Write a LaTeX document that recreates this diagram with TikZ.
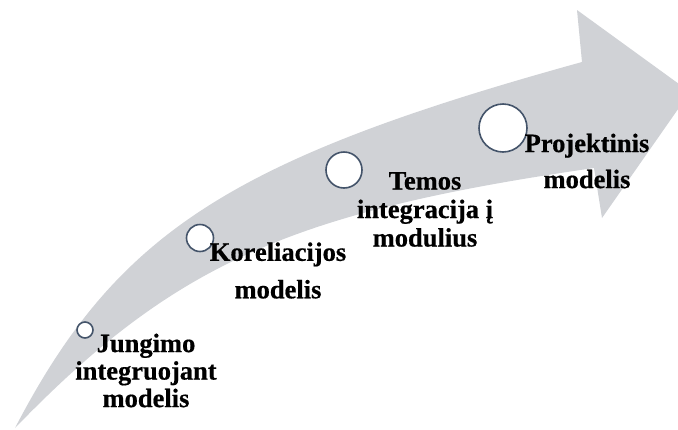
\documentclass[tikz,border=0pt]{standalone}
\usepackage{fontspec}
\setmainfont{Liberation Serif}
\definecolor{arrowgrey}{RGB}{208, 210, 214}
\definecolor{ringblue}{RGB}{68, 84, 106}
\usetikzlibrary{shapes}

\begin{document}
\begin{tikzpicture}[x=1pt, y=-1pt,
  stage/.style={circle, draw=ringblue, fill=white, line width=1.6pt, inner sep=0pt},
  lbl/.style={align=center, inner sep=0pt, font=\bfseries\fontsize{26.5}{28.5}\selectfont\addfontfeatures{FakeBold=0.6}}
]
  \useasboundingbox (0,0) rectangle (678,429);
  \clip (0,0) rectangle (678,429);
  \fill[arrowgrey] (15,428) .. controls (117,232) and (231,159) .. (582,62)
    -- (577,10) -- (690,92) -- (602,218) -- (594,168)
    .. controls (290,212) and (174,264) .. cycle;

  \node[stage, minimum size=16pt] (c1) at (85,330) {};
  \node[stage, minimum size=27pt] (c2) at (200,238) {};
  \node[stage, minimum size=36pt] (c3) at (344,170) {};
  \node[stage, minimum size=48pt] (c4) at (503,128) {};

  \node[lbl] (l1) at (146,370.5) {Jungimo\\[-1pt]integruojant\\[-1pt]modelis};
  \node[lbl] (l2) at (278,270.5) {Koreliacijos\\[9pt]modelis};
  \node[lbl] (l3) at (425,209.5) {Temos\\integracija į\\modulius};
  \node[lbl] (l4) at (587,161) {Projektinis\\[7.5pt]modelis};
\end{tikzpicture}
\end{document}
